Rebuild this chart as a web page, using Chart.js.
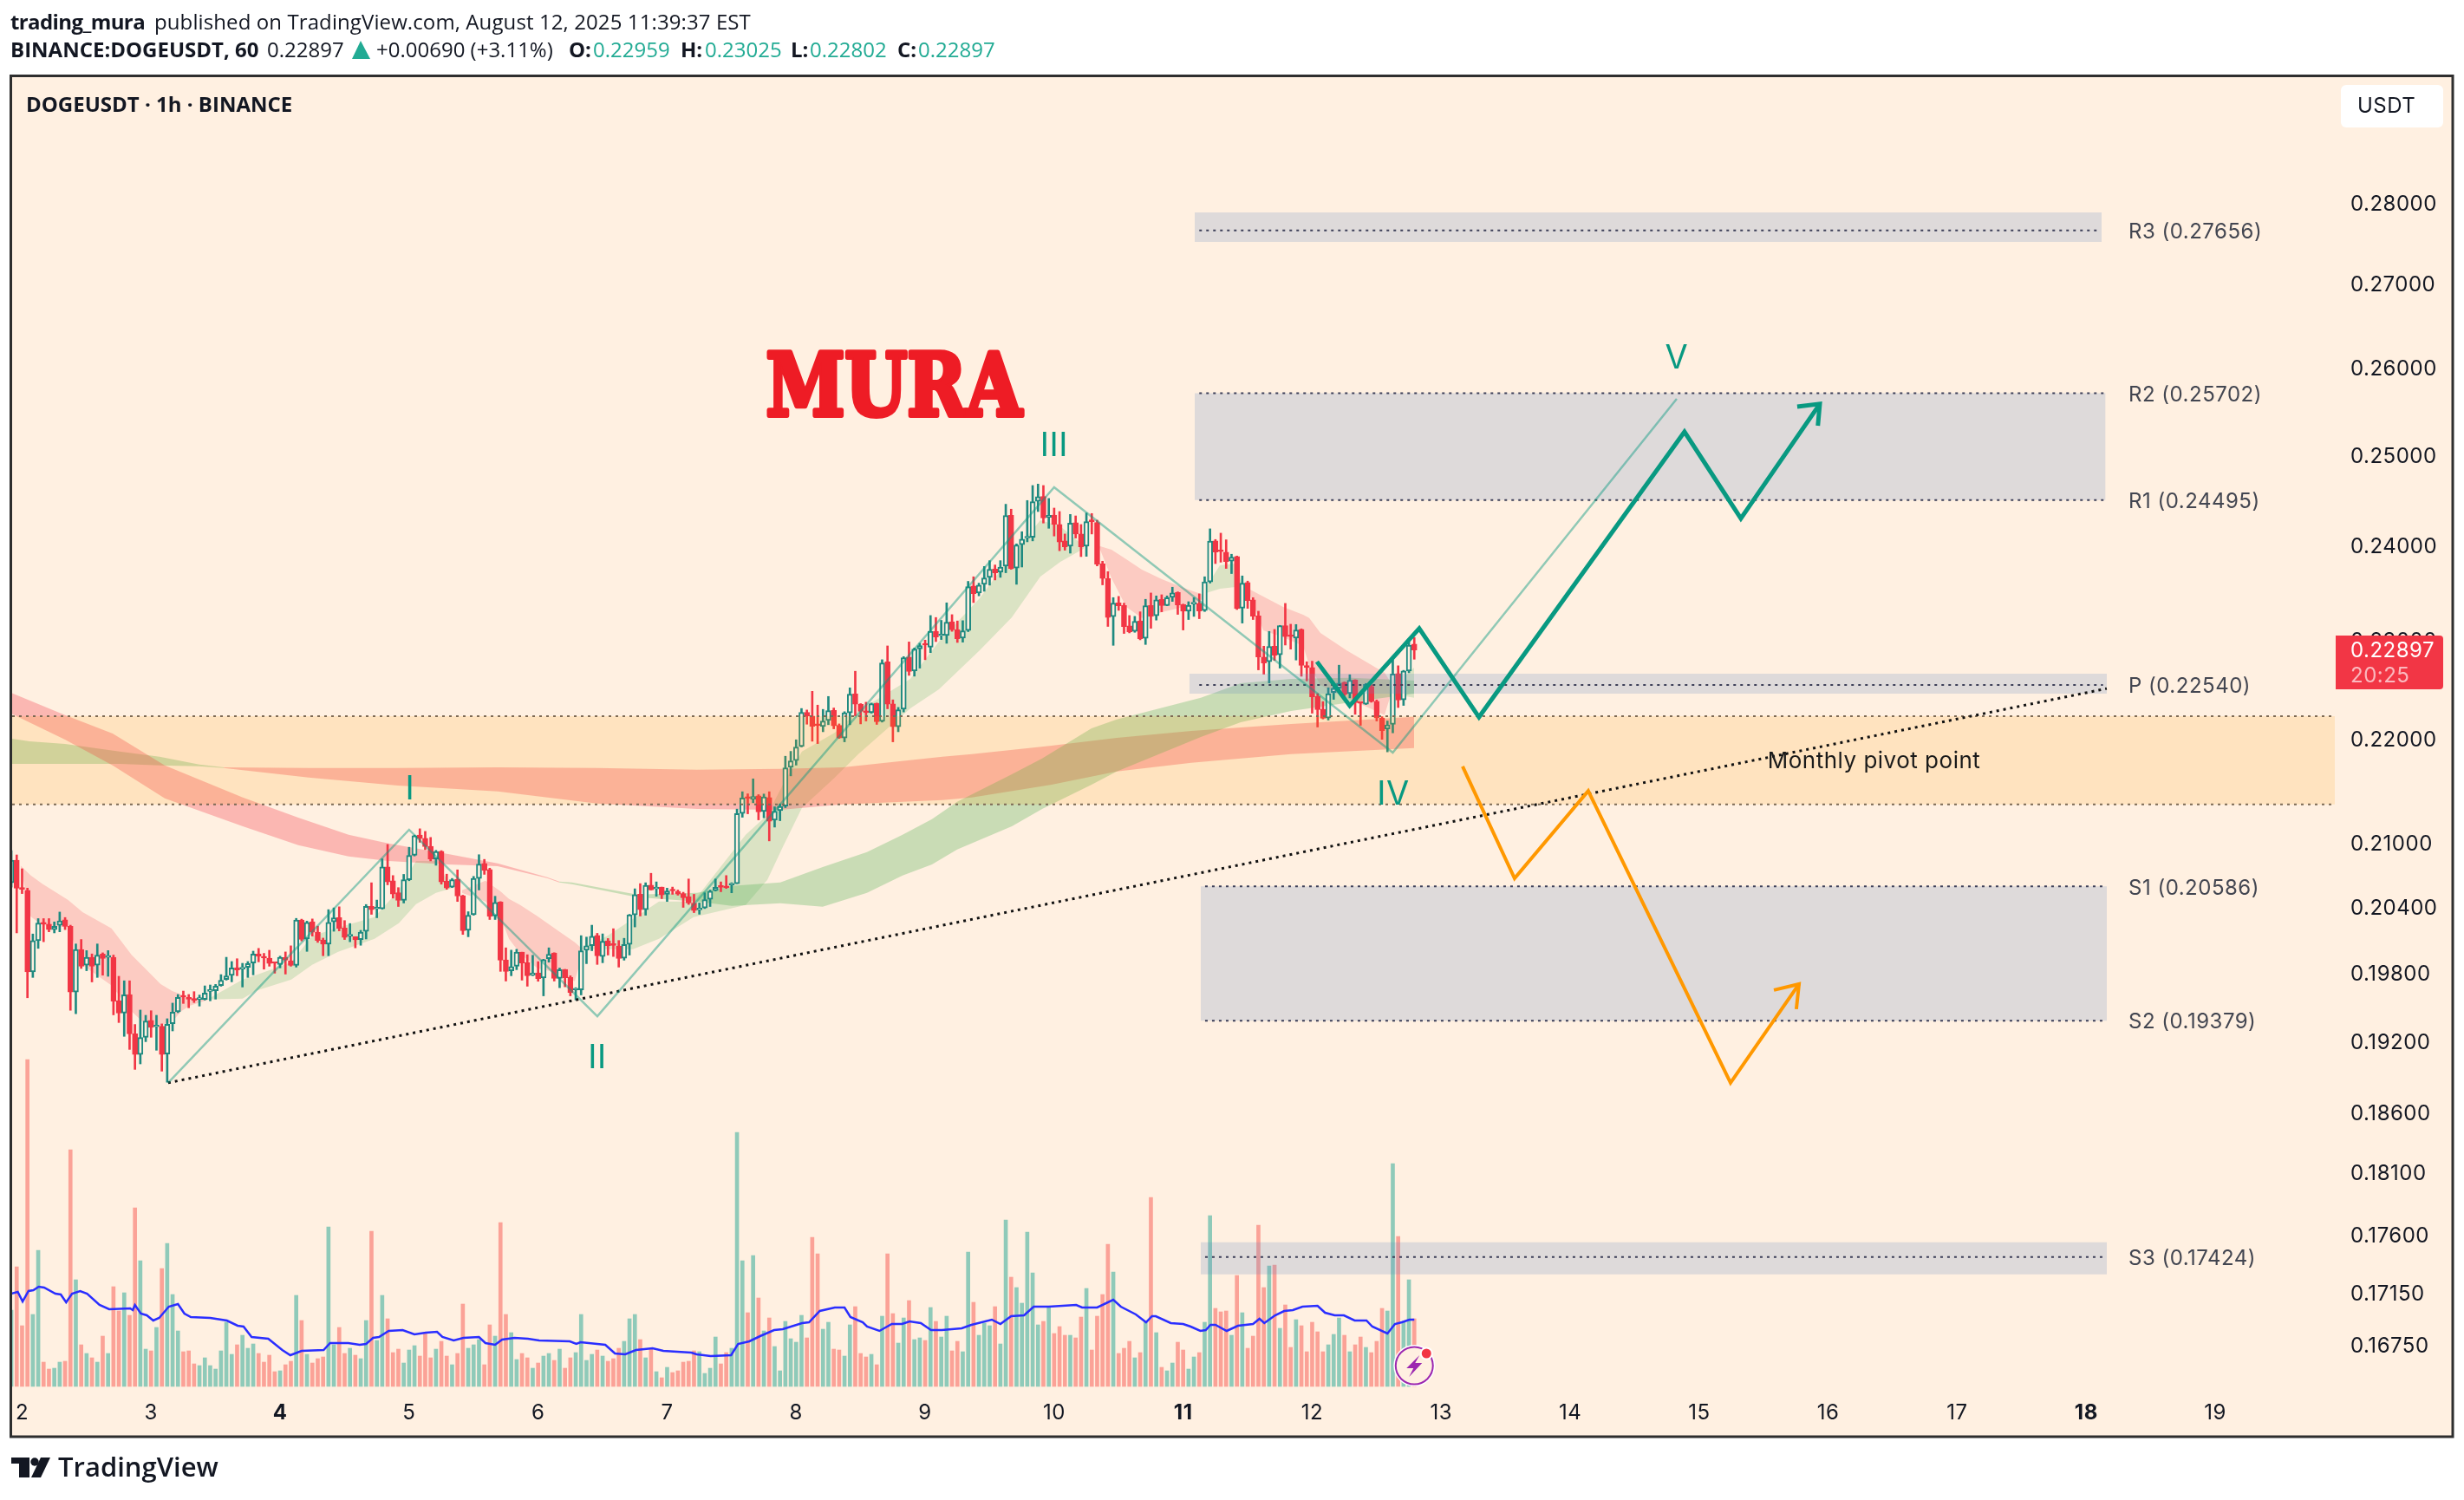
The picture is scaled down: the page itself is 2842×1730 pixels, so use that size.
<!DOCTYPE html>
<html><head><meta charset="utf-8">
<style>html,body{margin:0;padding:0;background:#fff}canvas{display:block}</style>
<script src="https://cdn.jsdelivr.net/npm/chart.js@4"></script>
</head><body><canvas id="c" width="2842" height="1730"></canvas>
<script>
const firstCandleDay = 1.9167;
const opens = [.2062,.2083,.2057,.2055,.1981,.2009,.2025,.2024,.2019,.2023,
.2028,.2022,.1963,.2001,.1987,.1994,.1987,.1997,.1994,.1994,
.19555,.19446,.19609,.19265,.19086,.19235,.19381,.19326,.19331,.19091,
.19353,.19456,.19596,.19578,.19573,.19566,.19566,.19637,.19642,.19688,
.19742,.19778,.19847,.19835,.1985,.19889,.1997,.19945,.19933,.19894,
.19876,.19938,.19909,.19868,.20277,.20105,.20261,.20167,.20097,.20058,
.20261,.203,.20204,.20131,.20126,.201,.20173,.20403,.20379,.20379,
.20767,.20639,.20527,.20457,.20647,.20876,.21067,.21037,.2096,.20843,
.20914,.20634,.2058,.20652,.205,.20183,.20327,.2066,.208,.20743,
.20314,.20443,.19916,.19819,.1986,.19986,.19893,.1978,.19801,.19755,
.19927,.19978,.19752,.19832,.19762,.19649,.19649,.20004,.20044,.20138,
.19947,.20088,.20052,.20041,.19932,.20057,.20324,.20513,.20372,.20599,
.20564,.2058,.20513,.20556,.2054,.20519,.20492,.20433,.20369,.20387,
.20468,.20548,.2059,.2059,.20599,.20612,.21273,.21426,.2141,.21443,
.21293,.21426,.21209,.21301,.21343,.21721,.21786,.21925,.22264,.22226,
.22134,.22122,.22183,.22284,.22134,.22007,.22258,.22449,.22345,.22273,
.22261,.22354,.22174,.22776,.22348,.2212,.22296,.22823,.22682,.22909,
.22954,.22927,.2309,.23044,.23047,.23189,.23108,.2302,.23099,.23566,
.23492,.23584,.23658,.23747,.23713,.23777,.24328,.23756,.24008,.2408,
.24089,.24481,.24535,.24305,.24331,.24227,.24049,.23992,.24246,.24124,
.23992,.24268,.24249,.23805,.23645,.23243,.23388,.2336,.23146,.23089,
.232,.23017,.2336,.23252,.23425,.2336,.23446,.23498,.23369,.233,
.23375,.23382,.23306,.23609,.24049,.23942,.23927,.2383,.2388,.23333,
.23602,.23419,.23252,.22823,.22776,.22936,.22847,.23149,.23044,.2302,
.2311,.22738,.22717,.22423,.22293,.22206,.22464,.22508,.22567,.22452,
.2259,.22365,.22345,.22526,.22374,.22206,.22099,.22143,.22655,.22388,
.22682,.22959];
const highs = [.2092,.2088,.2075,.2057,.2015,.2029,.2029,.2029,.2026,.2035,
.203,.2023,.2006,.201,.2,.1997,.2006,.1998,.2,.1996,
.1977,.1973,.1973,.19346,.19472,.19426,.19466,.19426,.19351,.19396,
.19533,.19609,.19639,.19609,.19634,.19604,.19685,.19693,.19698,.19785,
.1994,.19902,.19927,.19886,.19902,.19995,.2002,.19975,.20003,.19894,
.1995,.19988,.20043,.20292,.20285,.20267,.20287,.20221,.20113,.20372,
.20388,.20398,.20272,.20245,.20126,.20183,.20419,.2062,.2046,.20843,
.20979,.20687,.20575,.20698,.20952,.21067,.21127,.21102,.21045,.20923,
.2092,.207,.2066,.2074,.20505,.20353,.20679,.20882,.20838,.20756,
.20495,.20446,.20025,.20004,.20012,.19986,.19963,.19958,.19901,.19922,
.20025,.19981,.19844,.19832,.19775,.19669,.20135,.20122,.2023,.20156,
.20151,.20109,.20198,.20091,.20111,.20329,.20564,.20612,.2062,.20708,
.20628,.2058,.2057,.2058,.20553,.20532,.20655,.20513,.20433,.20527,
.20553,.20655,.20628,.20687,.2062,.21315,.21482,.21462,.21607,.21454,
.2146,.21482,.21337,.21365,.21828,.21876,.2199,.22302,.22287,.22475,
.22336,.22293,.22423,.22307,.22148,.2227,.2251,.22679,.22351,.22365,
.22357,.22357,.22797,.22939,.22389,.22313,.22829,.2298,.22918,.22966,
.22999,.23255,.23234,.23204,.23388,.23264,.23198,.23201,.23615,.23664,
.23596,.23774,.23836,.2379,.23836,.24449,.24395,.24017,.24149,.2449,
.24656,.24672,.24656,.24513,.24407,.24369,.24124,.24337,.24321,.24227,
.24353,.24347,.24274,.2383,.23719,.23443,.23456,.23385,.23255,.23246,
.23294,.23425,.23492,.23461,.23473,.23461,.23553,.23504,.23375,.234,
.23443,.23483,.23664,.2418,.24064,.24133,.24061,.23905,.23886,.23673,
.23618,.23443,.233,.22936,.23089,.2311,.23152,.23382,.23164,.23161,
.23116,.22776,.22782,.22452,.22371,.22511,.22555,.22741,.2257,.22643,
.22593,.22365,.22555,.22541,.22388,.2222,.22177,.22794,.22735,.22688,
.23014,.23025];
const lows = [.2058,.2016,.2052,.1958,.1976,.2002,.2008,.2017,.2016,.2017,
.2019,.1947,.1944,.1984,.1982,.1972,.1976,.1978,.1977,.1943,
.19363,.19243,.1913,.18959,.19006,.19197,.19235,.19123,.18944,.1885,
.1929,.19449,.1953,.19492,.19538,.19507,.1956,.19553,.19568,.19682,
.19736,.19721,.19775,.19675,.1976,.19783,.19899,.19834,.1986,.19798,
.19845,.1979,.1986,.19852,.20087,.19993,.20131,.20074,.19954,.19954,
.20175,.20178,.201,.2008,.20025,.20048,.20105,.20329,.20298,.20377,
.20601,.20478,.20401,.20433,.20639,.2087,.20999,.2093,.20824,.20783,
.20607,.20559,.20575,.20447,.20146,.20125,.20321,.20553,.20698,.20282,
.20282,.19814,.19728,.19775,.19829,.19736,.19682,.19775,.19726,.19597,
.19896,.19728,.19669,.19677,.19597,.19561,.19605,.19883,.19999,.19876,
.19891,.1996,.19947,.19852,.19914,.1996,.20214,.20314,.20321,.20553,
.20495,.20473,.20447,.20513,.20505,.20393,.2042,.20345,.2033,.20382,
.20401,.20543,.20537,.20567,.20527,.20612,.21237,.2127,.21376,.21212,
.21232,.21012,.21143,.21204,.21329,.21636,.21741,.21919,.22145,.21976,
.21953,.2207,.2214,.22099,.22004,.2197,.2214,.22229,.22148,.22177,
.22255,.22143,.22166,.22299,.2197,.2207,.22267,.22637,.22629,.22711,
.22797,.2287,.22984,.23005,.22966,.2309,.22975,.22978,.23087,.23391,
.23462,.2351,.23575,.2363,.23658,.23707,.23744,.23584,.23768,.24039,
.24049,.24369,.24243,.24186,.24102,.23943,.23949,.23917,.2408,.2388,
.23883,.24124,.2378,.23578,.23141,.22945,.23309,.23068,.23074,.2308,
.23002,.22954,.23122,.23207,.23294,.23357,.23403,.23267,.23104,.23213,
.23246,.23222,.23297,.23597,.23805,.2382,.23753,.23698,.23318,.23176,
.2333,.23213,.22693,.22649,.2256,.2279,.22711,.22948,.22906,.22794,
.22628,.22581,.22255,.22117,.22197,.22186,.22394,.22476,.22409,.22409,
.22244,.22134,.22342,.22365,.22177,.21995,.21871,.22059,.22312,.22333,
.22664,.22802];
const closes = [.2083,.2057,.2056,.1981,.2009,.2025,.2024,.2019,.2022,.2027,
.2022,.1963,.2001,.1986,.1994,.1986,.1996,.1993,.1994,.1955,
.19446,.19606,.19265,.19086,.19233,.19376,.19321,.19336,.19086,.19348,
.19454,.19583,.19586,.19568,.19558,.19571,.19621,.19642,.19682,.19734,
.19773,.19845,.19827,.19845,.19884,.1997,.19948,.19933,.19884,.19886,
.1994,.19914,.19868,.20277,.20102,.20256,.20167,.20092,.20058,.20256,
.20298,.20201,.20118,.20139,.20097,.20167,.20403,.20372,.20387,.20767,
.20628,.20516,.20457,.20649,.20876,.21061,.21034,.20958,.20841,.20912,
.20628,.20572,.20649,.20497,.2018,.20321,.2066,.20794,.20735,.20311,
.20438,.19914,.19814,.19857,.19986,.19888,.19775,.19801,.19749,.19919,
.19968,.19752,.19829,.19757,.19626,.19654,.19999,.20044,.2013,.19952,
.20085,.20044,.20047,.1993,.20054,.20324,.2051,.20372,.20596,.20553,
.20575,.20508,.20545,.20545,.20516,.20481,.20433,.20363,.20387,.20465,
.20543,.20578,.20578,.20575,.20615,.21271,.21421,.21418,.21437,.21287,
.21432,.21198,.21295,.2134,.21715,.21783,.21919,.22264,.22226,.22125,
.22131,.22177,.22281,.22128,.22007,.22258,.22446,.22345,.22273,.22261,
.22351,.22169,.22764,.22345,.2212,.2229,.22817,.22676,.22906,.22942,
.22948,.2309,.23032,.23056,.23186,.23105,.23014,.23096,.2356,.23486,
.23575,.23652,.23744,.23707,.23768,.24325,.2375,.24005,.24067,.24092,
.24478,.24532,.24299,.24328,.24227,.24036,.23986,.24243,.24124,.23986,
.24258,.24258,.23799,.23645,.23234,.23385,.23357,.2314,.23083,.23194,
.23014,.23357,.23246,.23419,.2336,.23443,.23492,.23366,.233,.23363,
.23385,.23303,.23609,.24046,.2393,.23933,.23826,.23874,.23327,.23596,
.23412,.23249,.22826,.22764,.22933,.22841,.23149,.23035,.23035,.23104,
.22738,.22717,.2242,.2229,.22203,.22452,.22505,.22558,.22446,.22587,
.2236,.22354,.22546,.22371,.22206,.22082,.22137,.22652,.22386,.22682,
.22948,.22897];
const volumes = [88,138,70,377,83,157,28,20,21,28,
29,273,123,48,38,33,28,58,38,115,
87,108,82,206,145,43,41,68,136,165,
106,64,40,41,26,24,33,24,20,41,
74,37,48,59,44,49,38,28,36,17,
18,25,29,105,76,37,27,32,34,184,
48,68,38,44,36,32,76,179,53,105,
78,39,43,27,42,47,35,62,33,43,
52,35,25,38,95,44,48,54,25,71,
58,189,83,62,31,38,33,21,27,35,
38,30,43,21,33,39,83,30,37,42,
35,29,32,44,52,78,83,54,33,43,
17,10,22,16,18,28,29,41,40,15,
21,57,26,39,44,293,145,85,151,102,
64,79,46,18,75,55,51,82,56,172,
153,66,74,43,42,35,71,92,38,34,
37,25,81,153,84,50,79,99,54,56,
53,91,75,57,81,41,52,40,155,97,
59,73,70,92,49,192,126,114,96,178,
131,71,75,92,61,69,59,59,56,80,
113,42,81,106,164,132,38,44,52,33,
39,75,218,62,22,18,27,51,42,20,
34,39,74,197,90,86,87,59,128,85,
44,58,186,114,139,140,67,94,45,77,
70,40,74,63,40,48,60,79,59,40,
48,57,45,39,52,90,87,257,173,75,
123,78];
const volMaHour = [0,1.2,2.1,3.2,4.1,5.1,6.1,8.2,9.2,10.2,11.3,12.8,14.1,16.4,18.2,22.1,22.6,23,24.1,25.2,26.4,27.5,29.3,31,32.2,33.4,37,40.1,42.1,43.2,44.7,47.8,50.4,51.9,54,58.1,59.3,62.7,64.8,66,67.3,68.4,70.2,72.8,75,77.1,79.2,80.2,82.3,84.1,87,88.2,90,91.3,93.6,96.1,98.2,103.9,105.1,105.9,110.5,112.3,114.2,116.2,119.3,121.3,126.5,127.5,130.1,133.9,135.2,137.3,139.3,141.9,143.5,147.1,148.4,150.4,153.2,155,156.1,158.4,159.2,161.5,163.8,165.7,167.1,169.2,171.1,173.1,176.8,178.6,182.4,184,186,188.4,190.2,193,198.1,199.2,202,205,206.4,209.2,211.1,212.2,212.9,215.7,218,219.4,221.2,222.2,223.1,224,226.1,228.2,231,232.2,233.1,235.1,236.8,238.4,240.2,243,244.4,246.2,247.9,249.9,252.1,253.2,256,257.4,258.7,260.1,261];
const volMa = [107,109,98,110,111,115,114,107,106,97,107,110,107,94,89,90,88,94,84,82,76,79,92,95,84,80,79,76,70,69,57,55,42,36,41,42,50,50,48,49,56,57,64,65,60,62,63,57,53,56,57,50,48,54,56,55,53,52,49,51,48,38,37,42,44,41,39,37,35,36,49,52,58,65,66,73,74,87,91,91,80,74,69,64,72,72,75,73,65,65,67,71,77,72,81,82,92,92,94,91,91,100,92,83,74,81,81,73,72,69,64,65,71,71,64,70,72,78,73,82,87,88,92,93,85,82,82,76,76,69,61,72,74,77,77];

// Indicator clouds: day, upper edge, lower edge
const cloudA1Days=[1.988,2.066,2.156,2.357,2.469,2.693,2.85,2.962,3.074,3.164,3.231,3.298,3.433];
const cloudA1Up=[.2078,.2069,.2061,.2046,.2035,.2020,.1996,.1983,.1970,.1964,.1961,.1956,.1957];
const cloudA1Lo=[.2078,.2031,.2023,.2021,.1987,.1969,.1946,.1934,.1934,.1937,.1946,.1951,.1956];
const cloudA2Days=[3.435,3.71,3.811,4.087,4.248,4.45,4.732,4.92,5.054,5.208,5.323];
const cloudA2Up=[.19564,.19741,.1978,.19896,.2013,.20209,.20303,.2055,.20824,.20824,.2059];
const cloudA2Lo=[.19564,.19572,.19641,.19741,.19873,.19989,.20107,.20248,.20422,.20526,.20566];
const cloudA3Days=[5.41,5.592,5.706,5.774,5.861,5.995,6.177,6.284,6.345];
const cloudA3Up=[.2055,.20639,.20542,.2047,.20414,.20311,.20162,.20075,.20012];
const cloudA3Lo=[.20526,.20446,.20311,.20107,.19973,.19842,.19796,.19726,.19973];
const cloudA4Days=[6.345,6.533,6.735,6.937,7.205,7.609,7.777,7.897,8.045,8.3,8.482,8.885,9.107,9.423,9.672,9.893,10.048,10.23];
const cloudA4Up=[.20028,.2013,.20287,.20446,.20446,.2107,.21259,.21551,.21874,.22061,.22278,.22602,.22984,.23437,.23899,.24274,.24208,.23993];
const cloudA4Lo=[.20012,.20012,.20012,.20107,.20303,.20414,.20647,.20955,.21326,.21619,.21848,.22304,.22496,.22894,.23237,.23667,.23824,.23965];
const cloudA5Days=[10.351,10.445,10.559,10.68,10.835,11.003,11.171];
const cloudA5Up=[.23993,.23955,.23852,.23741,.23639,.23547,.23465];
const cloudA5Lo=[.23974,.23648,.23345,.23228,.23291,.23345,.23437];
const cloudA6Days=[11.157,11.285,11.406,11.453];
const cloudA6Up=[.23511,.23787,.23805,.23593];
const cloudA6Lo=[.23483,.23538,.23556,.23565];
const cloudA7Days=[11.506,11.621,11.775,11.93,11.977,12.064,12.266,12.494,12.561,12.622];
const cloudA7Up=[.23538,.23455,.23345,.23264,.23228,.23074,.22894,.22717,.22664,.2254];
const cloudA7Lo=[.23511,.231,.23028,.22939,.22744,.2254,.22409,.22278,.22235,.22496];
const cloudA8Days=[12.608,12.79];
const cloudA8Up=[.22496,.22717];
const cloudA8Lo=[.22452,.22409];
const cloudB1Days=[1.916,2.333,2.702,3.106,3.711,4.141,4.531,4.84,5.303,5.686,6.07,6.164];
const cloudB1Up=[.2246,.22235,.22053,.21738,.21426,.21234,.2107,.20988,.20889,.208,.20671,.20631];
const cloudB1Lo=[.22252,.21992,.21738,.21418,.21151,.20971,.20865,.20824,.20791,.20775,.20663,.20623];
const cloudB2Days=[6.164,6.262,6.766,7.232,7.501,7.877,8.206,8.549,8.825,9.053,9.248,9.672,9.907,10.29,10.485,11.137,11.446,11.836,12.3,12.79];
const cloudB2Up=[.20631,.20623,.20511,.20526,.2059,.20623,.20767,.20906,.2107,.21218,.21384,.21652,.21806,.22105,.22192,.22409,.22558,.22602,.22611,.22584];
const cloudB2Lo=[.20623,.20607,.20487,.20446,.20406,.2043,.20398,.20526,.20687,.20791,.2093,.21151,.21317,.21551,.21678,.22018,.22165,.22278,.22365,.22452];
const cloudC1Days=[1.916,2.057,2.333,2.756,3.065,3.374,3.563];
const cloudC1Up=[.22001,.21975,.2195,.21874,.21823,.21746,.2172];
const cloudC1Lo=[.21754,.21754,.21754,.21754,.21738,.21729,.21712];
const cloudC2Days=[3.563,4.221,4.913,5.686,6.459,7.232,7.877,8.361,9.134,9.362,9.98,10.485,11.063,11.836,12.79];
const cloudC2Up=[.2172,.21712,.21712,.2172,.21712,.21695,.21704,.2172,.21823,.21848,.21933,.22009,.22079,.22148,.22218];
const cloudC2Lo=[.21712,.21619,.21543,.21485,.21368,.21317,.21309,.21359,.21401,.21426,.21551,.21678,.21763,.21848,.21908];

// Pivot levels and zones
const pivotNames=['R3','R2','R1','P','S1','S2','S3'];
const pivotValues=[.27656,.25702,.24495,.2254,.20586,.19379,.17424];
const pivotLineStart=[11.125,11.125,11.125,11.125,11.17,11.17,11.17];
const pivotLineEnd=[18.1,18.15,18.15,18.13,18.15,18.15,18.15];
const zoneStart=[11.089,11.089,11.048,11.136,11.136];
const zoneEnd=[18.12,18.15,18.16,18.16,18.16];
const zoneTop=[.2788,.25702,.22655,.20586,.1754];
const zoneBottom=[.27513,.24495,.22451,.19379,.17288];
const monthlyZone=[.22226,.21359];
const chartStartDay=1.923, chartEndDay=19.927;

// Drawings
const waveDays=[3.132,5,6.459,10,12.625,14.826];
const wavePrices=[.18845,.21118,.19418,.24637,.21863,.25637];
const trendDays=[3.132,18.159];
const trendPrices=[.18845,.22503];
const greenDays=[12.037,12.291,12.83,13.293,14.886,15.323,15.935];
const greenPrices=[.22777,.2233,.2312,.22216,.25259,.24293,.25578];
const greenHeadDays=[15.76,15.935,15.92];
const greenHeadPrices=[.25547,.25578,.25329];
const orangeDays=[13.166,13.569,14.14,15.243,15.774];
const orangePrices=[.21729,.20661,.2149,.18845,.19701];
const orangeHeadDays=[15.579,15.774,15.753];
const orangeHeadPrices=[.19648,.19701,.1948];
const waveLabels=['I','II','III','IV','V'];
const waveLabelDays=[5.007,6.459,10,12.628,14.826];
const waveLabelPrices=[.21501,.19053,.25094,.21451,.2611];

// Axes
const dayTicks=[2,3,4,5,6,7,8,9,10,11,12,13,14,15,16,17,18,19];
const boldDays=[4,11,18];
const priceTicks=[.28,.27,.26,.25,.24,.23,.22,.21,.204,.198,.192,.186,.181,.176,.1715,.1675];
const lastPrice=.22897, countdown='20:25';

const BG='#fff0e1', UI='Inter', TEAL='#1f8a80', RED='#f23645';
const candleDay=i=>firstCandleDay+i/24;
const xy=(ds,ps)=>ds.map((d,i)=>({x:d,y:ps[i]}));
const line=(data,color,width,order,dash)=>({type:'line',data,borderColor:color,borderWidth:width,borderDash:dash||[],pointRadius:0,fill:false,tension:0,order,yAxisID:'y',borderCapStyle:'butt'});
const datasets=[];
const band=(d,u,l,color)=>{
  datasets.push({type:'line',data:xy(d,u),fill:'+1',backgroundColor:color,borderWidth:0,pointRadius:0,order:80,yAxisID:'y'});
  datasets.push({type:'line',data:xy(d,l),fill:false,borderWidth:0,pointRadius:0,order:80,yAxisID:'y'});
};
const redS='rgba(242,54,69,.2)',grnS='rgba(76,175,80,.2)',redL='rgba(242,54,69,.3)',grnL='rgba(76,175,80,.3)';
band(cloudB1Days,cloudB1Up,cloudB1Lo,redL);
band(cloudB2Days,cloudB2Up,cloudB2Lo,grnL);
band(cloudC1Days,cloudC1Up,cloudC1Lo,grnL);
band(cloudC2Days,cloudC2Up,cloudC2Lo,redL);
band(cloudA1Days,cloudA1Up,cloudA1Lo,redS);
band(cloudA2Days,cloudA2Up,cloudA2Lo,grnS);
band(cloudA3Days,cloudA3Up,cloudA3Lo,redS);
band(cloudA4Days,cloudA4Up,cloudA4Lo,grnS);
band(cloudA5Days,cloudA5Up,cloudA5Lo,redS);
band(cloudA6Days,cloudA6Up,cloudA6Lo,grnS);
band(cloudA7Days,cloudA7Up,cloudA7Lo,redS);
band(cloudA8Days,cloudA8Up,cloudA8Lo,grnS);

const isUp=opens.map((o,i)=>closes[i]>=o);
datasets.push({type:'bar',label:'Volume',yAxisID:'vol',order:90,barThickness:4,grouped:false,
  data:volumes.map((v,i)=>({x:candleDay(i),y:v})),
  backgroundColor:isUp.map(u=>u?'#8fcab9':'#fba297')});
datasets.push(Object.assign(line(xy(volMaHour.map(candleDay),volMa),'#2a2eff',2.5,85),{yAxisID:'vol'}));
datasets.push({type:'bar',label:'Wick',yAxisID:'y',order:70,barThickness:2,grouped:false,
  data:highs.map((h,i)=>({x:candleDay(i),y:[lows[i],h]})),
  backgroundColor:isUp.map(u=>u?TEAL:RED)});
datasets.push({type:'bar',label:'Body',yAxisID:'y',order:69,barThickness:6,grouped:false,minBarLength:2,
  data:opens.map((o,i)=>({x:candleDay(i),y:[Math.min(o,closes[i]),Math.max(o,closes[i])]})),
  backgroundColor:isUp.map(u=>u?BG:RED),borderColor:isUp.map(u=>u?TEAL:RED),borderWidth:2,borderSkipped:false});

// zones drawn over the candles
const rect=(x1,x2,t,b,color,order)=>({type:'line',data:[{x:x1,y:t},{x:x2,y:t}],fill:{value:b},backgroundColor:color,borderWidth:0,pointRadius:0,order,yAxisID:'y'});
zoneStart.forEach((s,i)=>datasets.push(rect(s,zoneEnd[i],zoneTop[i],zoneBottom[i],'rgba(100,135,195,.21)',50)));
datasets.push(rect(chartStartDay,chartEndDay,monthlyZone[0],monthlyZone[1],'rgba(255,152,0,.15)',50));
monthlyZone.forEach(v=>datasets.push(line([{x:chartStartDay,y:v},{x:chartEndDay,y:v}],'#7d6a55',2,45,[3,5])));
pivotValues.forEach((v,i)=>datasets.push(line([{x:pivotLineStart[i],y:v},{x:pivotLineEnd[i],y:v}],'#3d3f58',2,44,[3,5])));
datasets.push(line(xy(trendDays,trendPrices),'#111',3,40,[3,5]));
datasets.push(line(xy(waveDays,wavePrices),'rgba(8,153,129,.45)',2.5,30));
datasets.push(line(xy(orangeDays,orangePrices),'#ff9800',4,25));
datasets.push(line(xy(orangeHeadDays,orangeHeadPrices),'#ff9800',4,25));
datasets.push(line(xy(greenDays,greenPrices),'#089981',5,20));
datasets.push(line(xy(greenHeadDays,greenHeadPrices),'#089981',5,20));

function at(ctx,y,parts){
  parts.forEach(p=>{ctx.font=p[3];ctx.fillStyle=p[2];ctx.fillText(p[0],p[1],y);});
}
const overlay={id:'overlay',
  beforeDraw(chart){
    const c=chart.ctx;
    c.save();c.fillStyle='#fff';c.fillRect(0,0,2842,1730);
    c.fillStyle=BG;c.fillRect(12,87,2817,1570);c.restore();
    c.letterSpacing='0.5px';
  },
  afterDraw(chart){
    const c=chart.ctx,X=chart.scales.x,Y=chart.scales.y;
    c.save();
    c.textBaseline='middle';c.textAlign='left';
    // wave labels
    c.fillStyle='#089981';c.font='38px '+UI;c.textAlign='center';
    waveLabels.forEach((t,i)=>c.fillText(t,X.getPixelForValue(waveLabelDays[i]),Y.getPixelForValue(waveLabelPrices[i])));
    // pivot labels
    c.textAlign='left';c.fillStyle='#434651';c.font='24px '+UI;
    pivotNames.forEach((n,i)=>c.fillText(n+' ('+pivotValues[i].toFixed(5)+')',2455,Y.getPixelForValue(pivotValues[i])+2));
    // monthly label
    c.fillStyle='#1a1a1a';c.font='26px '+UI;
    c.fillText('Monthly pivot point',X.getPixelForValue(15.53),Y.getPixelForValue(.21788)+1);
    // MURA
    c.save();
    c.letterSpacing='0px';
    c.font='bold 100px "DejaVu Serif"';c.textAlign='center';c.textBaseline='alphabetic';
    const w=c.measureText('MURA').width;
    c.translate(X.getPixelForValue(8.757),Y.getPixelForValue(.25447));
    c.scale(295/w,1);
    c.fillStyle='#ee1c25';c.strokeStyle='#ee1c25';c.lineWidth=6;c.lineJoin='round';
    c.strokeText('MURA',0,0);c.fillText('MURA',0,0);
    c.restore();
    // lightning badge
    const bx=X.getPixelForValue(candleDay(261)),by=1575;
    c.beginPath();c.arc(bx,by,24,0,Math.PI*2);c.fillStyle='#fff';c.fill();
    c.beginPath();c.arc(bx,by,20.5,0,Math.PI*2);c.lineWidth=4;c.strokeStyle='#9c27b0';c.stroke();
    c.fillStyle='#fff0e1';c.fill();
    c.fillStyle='#9c27b0';c.beginPath();
    [[bx+6,by-12],[bx-9,by+3],[bx-1,by+3],[bx-6,by+13],[bx+9,by-3],[bx+1,by-3]].forEach((p,i)=>i?c.lineTo(p[0],p[1]):c.moveTo(p[0],p[1]));
    c.closePath();c.fill();
    c.beginPath();c.arc(bx+14,by-14,7.5,0,Math.PI*2);c.fillStyle='#fff';c.fill();
    c.beginPath();c.arc(bx+14,by-14,5.5,0,Math.PI*2);c.fillStyle=RED;c.fill();
    // last price label
    const py=Y.getPixelForValue(lastPrice);
    c.fillStyle=RED;c.beginPath();c.roundRect(2694,733,124,62,[0,4,4,0]);c.fill();
    c.fillStyle='#fff';c.font='24px '+UI;c.fillText(lastPrice.toFixed(5),2711,py+1);
    c.fillStyle='rgba(255,255,255,.65)';c.fillText(countdown,2711,py+30);
    // currency button
    c.fillStyle='#fff';c.beginPath();c.roundRect(2700,98,118,49,6);c.fill();
    c.fillStyle='#131722';c.fillText('USDT',2719,123);
    // symbol title
    c.letterSpacing='0px';
    c.font='700 24px "Open Sans"';c.fillText('DOGEUSDT · 1h · BINANCE',30,122);
    // border
    c.strokeStyle='#2e2e2e';c.lineWidth=3;c.strokeRect(12.5,87.5,2816.5,1569.5);
    // header
    const dark='#131722',teal='#22ab94',b='700 24px "Open Sans"',r='400 24px "Open Sans"';
    c.letterSpacing='-0.6px';
    at(c,27,[['trading_mura',12,dark,b]]);
    c.letterSpacing='0.1px';
    at(c,27,[['published on TradingView.com, August 12, 2025 11:39:37 EST',178,dark,r]]);
    c.letterSpacing='0px';
    at(c,59,[['BINANCE:DOGEUSDT, 60',12,dark,b],['0.22897',308,dark,r],['+0.00690 (+3.11%)',434,dark,r],
      ['O:',656,dark,b],['0.22959',684,teal,r],['H:',785,dark,b],['0.23025',813,teal,r],
      ['L:',912,dark,b],['0.22802',934,teal,r],['C:',1035,dark,b],['0.22897',1059,teal,r]]);
    c.fillStyle=teal;c.beginPath();c.moveTo(416,47);c.lineTo(427,68);c.lineTo(406,68);c.closePath();c.fill();
    // logo
    c.fillStyle=dark;
    c.fillRect(13,1681,21,7);c.fillRect(22,1681,12,23);
    c.beginPath();c.arc(40,1686,4.7,0,Math.PI*2);c.fill();
    c.beginPath();c.moveTo(47,1681);c.lineTo(58,1681);c.lineTo(47,1704);c.lineTo(36,1704);c.closePath();c.fill();
    c.font='600 31px "Open Sans"';c.fillText('TradingView',67,1694);
    c.restore();
  }
};

new Chart(document.getElementById('c'),{
  type:'line',
  data:{datasets},
  plugins:[overlay],
  options:{
    responsive:false,animation:false,devicePixelRatio:1,
    layout:{padding:{left:14,top:90,right:12,bottom:73}},
    plugins:{legend:{display:false},tooltip:{enabled:false}},
    scales:{
      x:{type:'linear',position:'bottom',min:chartStartDay,max:chartEndDay,offset:false,
        grid:{display:false,drawTicks:false,offset:false},border:{display:false},
        afterBuildTicks:s=>{s.ticks=dayTicks.map(v=>({value:v}));},
        afterFit:s=>{s.height=57;},
        ticks:{autoSkip:false,maxRotation:0,padding:15,color:'#131722',
          callback:v=>String(v),
          font:ctx=>({family:UI,size:24,weight:ctx.tick&&boldDays.includes(ctx.tick.value)?'700':'400'})}},
      y:{type:'logarithmic',position:'right',min:.16432,max:.29618,
        grid:{display:false,drawTicks:false},border:{display:false},
        afterBuildTicks:s=>{s.ticks=priceTicks.map(v=>({value:v}));},
        afterFit:s=>{s.width=137;},
        ticks:{autoSkip:false,padding:18,labelOffset:2,color:'#131722',callback:v=>Number(v).toFixed(5),
          font:{family:UI,size:24}}},
      vol:{type:'linear',display:false,min:-1,max:1509}
    }
  }
});
</script></body></html>
